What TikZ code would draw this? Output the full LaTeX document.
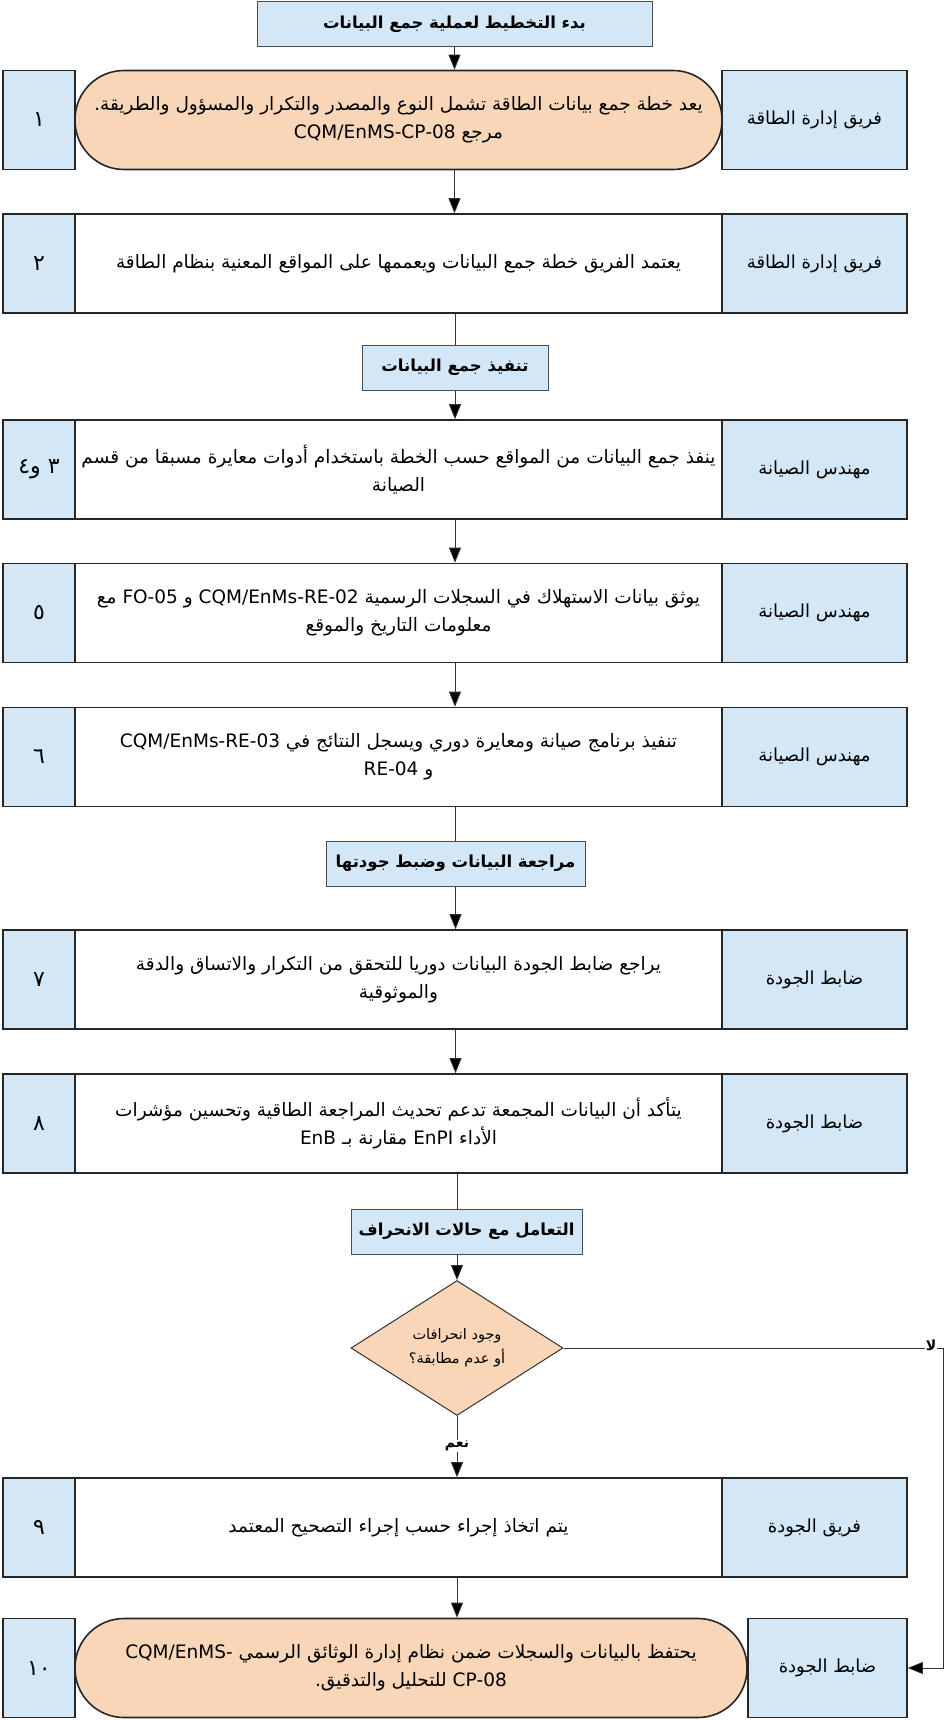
\documentclass[tikz,border=0pt]{standalone}
\usepackage{fontspec}
\newfontfamily\arabicfont[Script=Arabic]{DejaVu Sans}
\TeXXeTstate=1
\usetikzlibrary{arrows.meta,shapes.geometric}
\definecolor{boxblue}{RGB}{212,231,246}
\definecolor{peach}{RGB}{249,214,184}
\newcommand{\ar}[1]{\beginR #1\endR}
\newcommand{\la}[1]{\beginL #1\endL{}}
\begin{document}
\begin{tikzpicture}[x=1pt,y=-1pt,
  head/.style={draw=black!70,line width=1pt,fill=boxblue,minimum height=45pt,inner sep=0pt,
    font=\arabicfont\bfseries\fontsize{16.5}{24}\selectfont},
  num/.style={draw=black!85,line width=1.6pt,fill=boxblue,minimum width=72pt,minimum height=99pt,inner sep=0pt,
    font=\arabicfont\fontsize{22}{24}\selectfont},
  role/.style={num,minimum width=185pt,font=\arabicfont\fontsize{18}{24}\selectfont},
  task/.style={draw=black!85,line width=1.6pt,fill=white,minimum width=647pt,minimum height=99pt,inner sep=0pt,
    align=center,font=\arabicfont\fontsize{18.5}{28}\selectfont},
  term/.style={task,fill=peach,rounded corners=49pt},
  ask/.style={diamond,draw=black!80,line width=1pt,fill=peach,minimum width=212pt,minimum height=117pt,
    inner sep=0pt,align=center,font=\arabicfont\fontsize{14.5}{24}\selectfont},
  tag/.style={fill=white,inner sep=0.5pt,font=\arabicfont\bfseries\fontsize{14}{16}\selectfont},
  arr/.style={draw=black!80,line width=0.8pt,-{Triangle[length=15pt,width=12pt,fill=black]}},
  link/.style={draw=black!80,line width=0.8pt}]
\useasboundingbox (0,0) rectangle (944,1720);

% planning
\node[head,minimum width=395pt] (top) at (454.5,24) {\ar{بدء التخطيط لعملية جمع البيانات}};

\node[num] (n1) at (39,120) {\ar{١}};
\node[term] (m1) at (398.5,120) {\ar{يعد خطة جمع بيانات الطاقة تشمل النوع والمصدر والتكرار والمسؤول والطريقة.}\\
  \ar{مرجع \la{CQM/EnMS-CP-08}}};
\node[role] (r1) at (814.5,120) {\ar{فريق إدارة الطاقة}};

\node[num] (n2) at (39,263.5) {\ar{٢}};
\node[task] (m2) at (398.5,263.5) {\ar{يعتمد الفريق خطة جمع البيانات ويعممها على المواقع المعنية بنظام الطاقة}};
\node[role] (r2) at (814.5,263.5) {\ar{فريق إدارة الطاقة}};

% collection
\node[head,minimum width=186pt] (sec1) at (455,367.5) {\ar{تنفيذ جمع البيانات}};

\node[num] (n3) at (39,469.5) {\ar{٣ و٤}};
\node[task] (m3) at (398.5,469.5) {\ar{ينفذ جمع البيانات من المواقع حسب الخطة باستخدام أدوات معايرة مسبقا من قسم}\\
  \ar{الصيانة}};
\node[role] (r3) at (814.5,469.5) {\ar{مهندس الصيانة}};

\node[num] (n4) at (39,613) {\ar{٥}};
\node[task] (m4) at (398.5,613) {\ar{يوثق بيانات الاستهلاك في السجلات الرسمية \la{CQM/EnMs-RE-02} و \la{FO-05} مع}\\
  \ar{معلومات التاريخ والموقع}};
\node[role] (r4) at (814.5,613) {\ar{مهندس الصيانة}};

\node[num] (n5) at (39,757) {\ar{٦}};
\node[task] (m5) at (398.5,757) {\ar{تنفيذ برنامج صيانة ومعايرة دوري ويسجل النتائج في \la{CQM/EnMs-RE-03}}\\
  \ar{و \la{RE-04}}};
\node[role] (r5) at (814.5,757) {\ar{مهندس الصيانة}};

% review
\node[head,minimum width=259pt] (sec2) at (455.5,863.5) {\ar{مراجعة البيانات وضبط جودتها}};

\node[num] (n7) at (39,979.5) {\ar{٧}};
\node[task] (m7) at (398.5,979.5) {\ar{يراجع ضابط الجودة البيانات دوريا للتحقق من التكرار والاتساق والدقة}\\
  \ar{والموثوقية}};
\node[role] (r7) at (814.5,979.5) {\ar{ضابط الجودة}};

\node[num] (n8) at (39,1123.5) {\ar{٨}};
\node[task] (m8) at (398.5,1123.5) {\ar{يتأكد أن البيانات المجمعة تدعم تحديث المراجعة الطاقية وتحسين مؤشرات}\\
  \ar{الأداء \la{EnPI} مقارنة بـ \la{EnB}}};
\node[role] (r8) at (814.5,1123.5) {\ar{ضابط الجودة}};

% deviations
\node[head,minimum width=231pt] (sec3) at (466.5,1231.5) {\ar{التعامل مع حالات الانحراف}};
\node[ask] (dec) at (457,1348) {\ar{وجود انحرافات}\\ \ar{أو عدم مطابقة؟}};
\node[tag] (yes) at (457,1446) {\ar{نعم}};
\coordinate (bend) at (943,1348);
\node[tag] (no) at (931,1345) {\ar{لا}};

\node[num] (n9) at (39,1527.5) {\ar{٩}};
\node[task] (m9) at (398.5,1527.5) {\ar{يتم اتخاذ  إجراء حسب إجراء التصحيح المعتمد}};
\node[role] (r9) at (814.5,1527.5) {\ar{فريق الجودة}};

\node[num] (n10) at (39,1668) {\ar{١٠}};
\node[term,minimum width=672pt] (m10) at (411,1668) {\ar{يحتفظ بالبيانات والسجلات ضمن نظام إدارة الوثائق الرسمي \la{CQM/EnMS-}}\\
  \ar{\la{CP-08} للتحليل والتدقيق.}};
\node[role,minimum width=159pt] (r10) at (827.5,1668) {\ar{ضابط الجودة}};

% connectors
\draw[arr] (top.south) -- (top.south |- m1.north);
\draw[arr] (m1.south -| top) -- (m2.north -| top);
\draw[link] (m2.south -| sec1) -- (sec1.north);
\draw[arr] (sec1.south) -- (sec1.south |- m3.north);
\draw[arr] (m3.south -| sec1) -- (m4.north -| sec1);
\draw[arr] (m4.south -| sec1) -- (m5.north -| sec1);
\draw[link] (m5.south -| sec2) -- (sec2.north);
\draw[arr] (sec2.south) -- (sec2.south |- m7.north);
\draw[arr] (m7.south -| sec2) -- (m8.north -| sec2);
\draw[link] (m8.south -| dec) -- (sec3.north -| dec);
\draw[arr] (sec3.south -| dec) -- (dec.north);
\draw[link] (dec.south) -- (yes.north);
\draw[arr] (yes.south) -- (yes.south |- m9.north);
\draw[arr] (m9.south -| dec) -- (m10.north -| dec);
\draw[arr] (dec.east) -- (bend) |- (r10.east);
\node[tag] at (no) {\ar{لا}};

\end{tikzpicture}
\end{document}
